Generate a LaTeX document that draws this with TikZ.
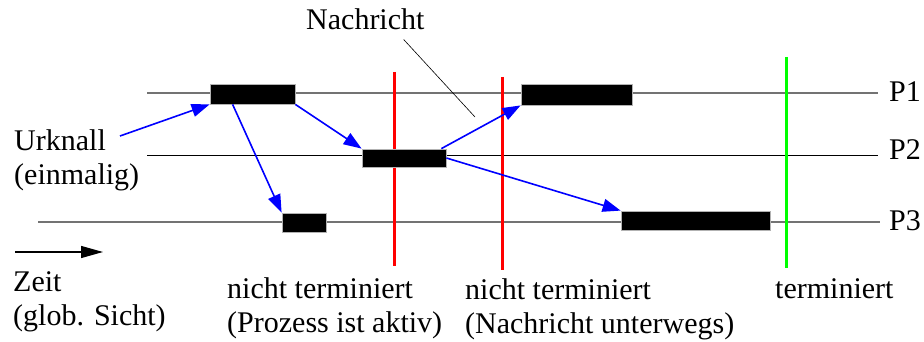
\documentclass[tikz,border=0pt]{standalone}
\usepackage{fontspec}
\setmainfont{Liberation Serif}
\usetikzlibrary{arrows.meta,calc}
\tikzset{
  bar/.style={fill=black, draw=gray!60, line width=0.8pt, inner sep=0pt},
  msg/.style={blue, line width=1.6pt, -{Triangle[length=18pt,width=13pt]}},
  label/.style={inner sep=0pt, anchor=base west, align=left},
  cut/.style={line width=3pt}
}
\begin{document}
\begin{tikzpicture}[x=1pt, y=-1pt, font=\fontsize{30}{34}\selectfont]
    \useasboundingbox (0,0) rectangle (924,342);

    % Process lines
    \coordinate (p1s) at (147,93);  \coordinate (p1e) at (878,93);
    \coordinate (p2s) at (147,156); \coordinate (p2e) at (878,156);
    \coordinate (p3s) at (38,222);  \coordinate (p3e) at (880,222);
    \draw[gray!90!black, line width=1.3pt] (p1s) -- (p1e);
    \draw[black, line width=1pt] (p2s) -- (p2e);
    \draw[gray!90!black, line width=1.3pt] (p3s) -- (p3e);
    \node[label] (p1) at (889,102) {P1};
    \node[label] (p2) at (889,160) {P2};
    \node[label] (p3) at (889,230) {P3};

    % Cuts
    \coordinate (c1t) at (394,72);  \coordinate (c1b) at (394,266);
    \coordinate (c2t) at (502,77);  \coordinate (c2b) at (502,270);
    \coordinate (c3t) at (786,57);  \coordinate (c3b) at (786,268);
    \draw[cut, red] (c1t) -- (c1b);
    \draw[cut, red] (c2t) -- (c2b);
    \draw[cut, green] (c3t) -- (c3b);

    % Activity bars
    \node[bar, minimum width=85pt, minimum height=20pt] (b1) at (252.5,94) {};
    \node[bar, minimum width=84pt, minimum height=18pt] (b2) at (404,158) {};
    \node[bar, minimum width=44pt, minimum height=19pt] (b3) at (304,222.5) {};
    \node[bar, minimum width=111pt, minimum height=21pt] (b4) at (576.5,94.5) {};
    \node[bar, minimum width=149pt, minimum height=19pt] (b5) at (695.5,220.5) {};

    % Messages
    \coordinate (bang) at (120,136);
    \draw[msg] (bang) -- (b1.south west);
    \draw[msg] ($(b1.south west)+(23,0)$) -- (b3.north west);
    \draw[msg] (b1.south east) -- (b2.north west);
    \draw[msg] ($(b2.north east)+(-5,0)$) -- (b4.south west);
    \draw[msg] (b2.east) -- (b5.north west);

    % Labels (base = last line)
    \node[label] (urknall) at (14,184) {Urknall\\(einmalig)};
    \node[label] (nachricht) at (306,30) {Nachricht};
    \coordinate (ptr) at (475,117);
    \draw[line width=0.6pt] ($(nachricht.south east)+(-21,9)$) -- (ptr);

    % Time axis
    \coordinate (zs) at (15,252); \coordinate (ze) at (103,252);
    \draw[line width=1.3pt, -{Triangle[length=22pt,width=12pt]}] (zs) -- (ze);
    \node[label] (zeit) at (13,325) {Zeit\\(glob. Sicht)};

    % Cut labels
    \node[label] (t1) at (227,332) {nicht terminiert\\(Prozess ist aktiv)};
    \node[label] (t2) at (465,333) {nicht terminiert\\(Nachricht unterwegs)};
    \node[label] (t3) at (775,298) {terminiert};
\end{tikzpicture}
\end{document}
